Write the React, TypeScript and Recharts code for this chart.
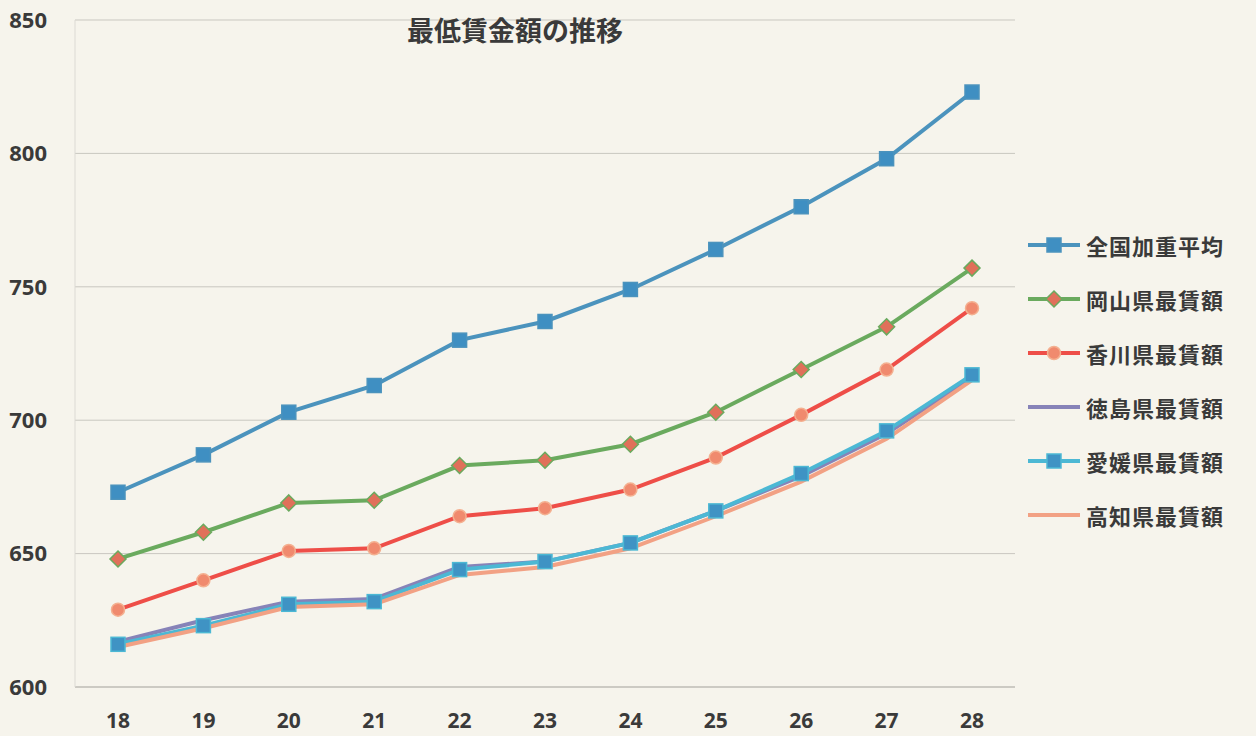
import React from 'react';
import { LineChart, Line, XAxis, YAxis, CartesianGrid } from 'recharts';

const years = ['18', '19', '20', '21', '22', '23', '24', '25', '26', '27', '28'];
const national = [673, 687, 703, 713, 730, 737, 749, 764, 780, 798, 823];
const okayama = [648, 658, 669, 670, 683, 685, 691, 703, 719, 735, 757];
const kagawa = [629, 640, 651, 652, 664, 667, 674, 686, 702, 719, 742];
const tokushima = [617, 625, 632, 633, 645, 647, 654, 666, 679, 695, 716];
const ehime = [616, 623, 631, 632, 644, 647, 654, 666, 680, 696, 717];
const kochi = [615, 622, 630, 631, 642, 645, 652, 664, 677, 693, 715];
const yTicks = [600, 650, 700, 750, 800, 850];

const data = years.map((y, i) => ({
  year: y,
  national: national[i],
  okayama: okayama[i],
  kagawa: kagawa[i],
  tokushima: tokushima[i],
  ehime: ehime[i],
  kochi: kochi[i],
}));

const JP = '"Noto Sans CJK JP", "Noto Sans", sans-serif';
const NUM = '"Liberation Sans Narrow", "Open Sans", "Noto Sans", sans-serif';

const series = [
  { key: 'national', name: '全国加重平均', color: '#4b93bd', marker: 'square', fill: '#3f8fc2' },
  { key: 'okayama', name: '岡山県最賃額', color: '#6aaa5e', marker: 'diamond', fill: '#e0705a' },
  { key: 'kagawa', name: '香川県最賃額', color: '#ee4e48', marker: 'circle', fill: '#f08a6e' },
  { key: 'tokushima', name: '徳島県最賃額', color: '#8783b8', marker: 'none', fill: '' },
  { key: 'ehime', name: '愛媛県最賃額', color: '#4cb8d4', marker: 'square', fill: '#3f93c4' },
  { key: 'kochi', name: '高知県最賃額', color: '#f2a184', marker: 'none', fill: '' },
];

const Marker = ({ cx, cy, type, fill, stroke }: any) => {
  if (cx == null || cy == null || type === 'none') return <g />;
  if (type === 'square') {
    return <rect x={cx - 7} y={cy - 7} width={14} height={14} fill={fill} stroke={stroke} strokeWidth={1.5} />;
  }
  if (type === 'diamond') {
    return (
      <path
        d={`M${cx},${cy - 8} L${cx + 8},${cy} L${cx},${cy + 8} L${cx - 8},${cy} Z`}
        fill={fill}
        stroke={stroke}
        strokeWidth={1.5}
      />
    );
  }
  return <circle cx={cx} cy={cy} r={6.5} fill={fill} stroke="#f4b090" strokeWidth={1.5} />;
};

const ChartLegend = () => (
  <div style={{ position: 'absolute', left: 1026, top: 218, width: 230, fontFamily: JP }}>
    {series.map((s) => (
      <div key={s.key} style={{ display: 'flex', alignItems: 'center', height: 54 }}>
        <svg width={56} height={20}>
          <line x1={2} y1={10} x2={54} y2={10} stroke={s.color} strokeWidth={4} />
          <Marker cx={28} cy={10} type={s.marker} fill={s.fill} stroke={s.color} />
        </svg>
        <span style={{ fontSize: 22, fontWeight: 700, color: '#3a3a3a', marginLeft: 4, letterSpacing: 1 }}>
          {s.name}
        </span>
      </div>
    ))}
  </div>
);

export default function App() {
  return (
    <div
      style={{
        position: 'absolute',
        left: 0,
        top: 0,
        width: 1256,
        height: 736,
        background: '#f6f4ec',
        overflow: 'hidden',
      }}
    >
      <LineChart width={1256} height={736} data={data} margin={{ top: 20, right: 241, bottom: 9, left: 0 }}>
        <CartesianGrid vertical={false} stroke="#c9c7c0" strokeWidth={1} />
        <XAxis
          dataKey="year"
          height={40}
          padding={{ left: 43, right: 43 }}
          axisLine={{ stroke: '#b8b6b0' }}
          tickLine={false}
          tickMargin={20}
          tick={{ fontFamily: NUM, fontSize: 21, fontWeight: 700, fill: '#3a3a3a' }}
        />
        <YAxis
          width={75}
          domain={[600, 850]}
          ticks={yTicks}
          axisLine={{ stroke: '#dcdad4' }}
          tickLine={false}
          tickMargin={22}
          tick={{ fontFamily: NUM, fontSize: 22, fontWeight: 700, fill: '#3a3a3a' }}
        />
        {series.map((s) => (
          <Line
            key={s.key}
            dataKey={s.key}
            name={s.name}
            stroke={s.color}
            strokeWidth={4}
            isAnimationActive={false}
            dot={(p: any) => <Marker key={`${s.key}-${p.index}`} cx={p.cx} cy={p.cy} type={s.marker} fill={s.fill} stroke={s.color} />}
            activeDot={false}
          />
        ))}
      </LineChart>
      <div
        style={{
          position: 'absolute',
          left: 0,
          width: 1030,
          top: 10,
          textAlign: 'center',
          fontFamily: JP,
          fontSize: 27,
          fontWeight: 700,
          color: '#3a3a3a',
        }}
      >
        最低賃金額の推移
      </div>
      <ChartLegend />
    </div>
  );
}
